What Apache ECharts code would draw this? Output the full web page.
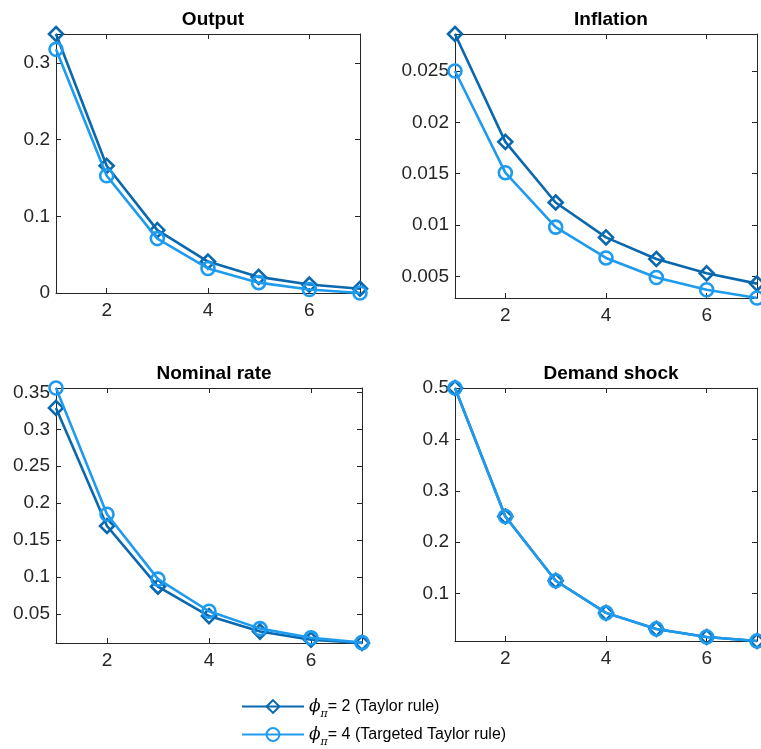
<!DOCTYPE html>
<html>
<head>
<meta charset="utf-8">
<script src="https://cdn.jsdelivr.net/npm/echarts@6/dist/echarts.min.js"></script>
<style>
html,body{margin:0;padding:0;background:#fff;}
#chart{width:761px;height:749px;}
</style>
</head>
<body>
<div id="chart"></div>
<script>
// ---- data ----
const periods = [1, 2, 3, 4, 5, 6, 7];
const panelTitles = ['Output', 'Inflation', 'Nominal rate', 'Demand shock'];
const seriesNames = ['phi2', 'phi4'];
const legendLabels = ['= 2 (Taylor rule)', '= 4 (Targeted Taylor rule)'];

const outputTaylor   = [0.338, 0.166, 0.082, 0.041, 0.021, 0.011, 0.0055];
const outputTargeted = [0.318, 0.153, 0.071, 0.032, 0.0135, 0.0045, 0.0];

const inflationTaylor   = [0.0286, 0.0181, 0.0122, 0.0088, 0.0067, 0.0053, 0.0043];
const inflationTargeted = [0.0250, 0.0151, 0.0098, 0.0068, 0.0049, 0.0037, 0.0029];

const nominalTaylor   = [0.329, 0.169, 0.087, 0.047, 0.026, 0.015, 0.0105];
const nominalTargeted = [0.356, 0.185, 0.097, 0.0535, 0.030, 0.0175, 0.011];

const demandTaylor   = [0.5, 0.25, 0.125, 0.0625, 0.0313, 0.0156, 0.0078];
const demandTargeted = [0.5, 0.25, 0.125, 0.0625, 0.0313, 0.0156, 0.0078];

const xTicks = [2, 4, 6];
const yTicksOutput    = [0, 0.1, 0.2, 0.3];
const yTicksInflation = [0.005, 0.01, 0.015, 0.02, 0.025];
const yTicksNominal   = [0.05, 0.1, 0.15, 0.2, 0.25, 0.3, 0.35];
const yTicksDemand    = [0.1, 0.2, 0.3, 0.4, 0.5];

// ---- build ----
const panelData = [
  [outputTaylor, outputTargeted],
  [inflationTaylor, inflationTargeted],
  [nominalTaylor, nominalTargeted],
  [demandTaylor, demandTargeted]
];
const panelYTicks = [yTicksOutput, yTicksInflation, yTicksNominal, yTicksDemand];

const grids = [
  {left: 56,  top: 34,  width: 304, height: 259},
  {left: 455, top: 34,  width: 302, height: 264},
  {left: 56,  top: 388, width: 306, height: 255},
  {left: 455, top: 388, width: 302, height: 253}
];

const AX = '#262626';
const DARK = '#0A68AE';
const LIGHT = '#1E9BEF';
const FONT = 'Liberation Sans, Arial, Helvetica, sans-serif';

function fmt(v){ return String(+(+v).toFixed(6)); }

const xAxes = [], yAxes = [], series = [], titles = [];
grids.forEach((g, i) => {
  const ys = panelData[i][0].concat(panelData[i][1]);
  const ymin = Math.min.apply(null, ys), ymax = Math.max.apply(null, ys);
  const baseX = {
    type: 'value', gridIndex: i, min: 1, max: 7,
    splitLine: {show: false},
    axisLine: {show: true, onZero: false, lineStyle: {color: AX, width: 1}},
    axisTick: {show: true, inside: true, length: 5, customValues: xTicks, lineStyle: {color: AX}},
  };
  xAxes.push(Object.assign({}, baseX, {
    position: 'bottom',
    axisLabel: {show: true, customValues: xTicks, color: AX, fontSize: 19, fontFamily: FONT, margin: 8, formatter: fmt}
  }));
  xAxes.push(Object.assign({}, baseX, {position: 'top', axisLabel: {show: false}}));
  const baseY = {
    type: 'value', gridIndex: i, min: ymin, max: ymax, scale: true,
    splitLine: {show: false},
    axisLine: {show: true, onZero: false, lineStyle: {color: AX, width: 1}},
    axisTick: {show: true, inside: true, length: 5, customValues: panelYTicks[i], lineStyle: {color: AX}},
  };
  yAxes.push(Object.assign({}, baseY, {
    position: 'left',
    axisLabel: {show: true, customValues: panelYTicks[i], color: AX, fontSize: 19, fontFamily: FONT, margin: 6, formatter: fmt}
  }));
  yAxes.push(Object.assign({}, baseY, {position: 'right', axisLabel: {show: false}}));

  titles.push({
    text: panelTitles[i],
    left: g.left + g.width / 2,
    top: g.top - 29,
    textAlign: 'center',
    textStyle: {fontSize: 19, fontWeight: 'bold', color: '#000', fontFamily: FONT}
  });

  [0, 1].forEach(k => {
    const col = k === 0 ? DARK : LIGHT;
    series.push({
      type: 'line',
      name: seriesNames[k],
      xAxisIndex: i * 2,
      yAxisIndex: i * 2,
      data: periods.map((p, j) => [p, panelData[i][k][j]]),
      symbol: k === 0 ? 'diamond' : 'circle',
      symbolSize: k === 0 ? 14 : 13,
      showAllSymbol: true,
      clip: false,
      lineStyle: {color: col, width: 2.6},
      itemStyle: {color: 'transparent', borderColor: col, borderWidth: 2.6},
      emphasis: {disabled: true},
      z: 2 + k,
      animation: false
    });
  });
});

const legendText = {
  color: '#000', fontFamily: FONT, fontSize: 16,
  rich: {
    phi: {fontSize: 17, fontStyle: 'italic', fontFamily: 'DejaVu Serif, serif', color: '#000', lineHeight: 22, verticalAlign: 'middle'},
    sub: {fontSize: 11, fontStyle: 'italic', fontFamily: 'DejaVu Serif, serif', color: '#000', lineHeight: 14, verticalAlign: 'bottom', padding: [0, 0, -2, 0]},
    t: {fontSize: 16, fontFamily: FONT, color: '#000', lineHeight: 22, verticalAlign: 'middle'}
  }
};
function legendFmt(name){
  const idx = seriesNames.indexOf(name);
  return '{phi|ϕ}{sub|π}{t|' + legendLabels[idx] + '}';
}
const legends = seriesNames.map((nm, k) => ({
  orient: 'horizontal',
  left: 236,
  top: 693 + k * 28,
  itemWidth: 62,
  itemHeight: 16,
  itemGap: 4,
  data: [nm],
  selectedMode: false,
  formatter: legendFmt,
  textStyle: legendText
}));

const chart = echarts.init(document.getElementById('chart'), null, {renderer: 'canvas'});
chart.setOption({
  backgroundColor: '#fff',
  animation: false,
  title: titles,
  grid: grids,
  xAxis: xAxes,
  yAxis: yAxes,
  series: series,
  legend: legends
});
</script>
</body>
</html>
